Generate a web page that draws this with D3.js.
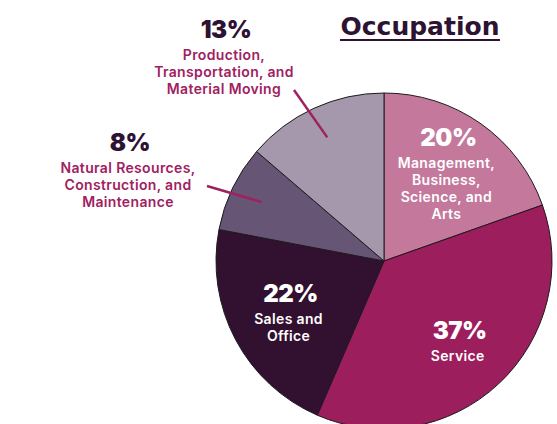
<!DOCTYPE html>
<html>
<head>
<meta charset="utf-8">
<script src="https://cdn.jsdelivr.net/npm/d3@7"></script>
<style>
  html, body { margin: 0; padding: 0; background: #fff; }
  svg { display: block; }
</style>
</head>
<body>
<div id="app"></div>
<script>
(function (d3) {
  'use strict'

  // slice data, clockwise from 12 o'clock
  const categories = ['Management', 'Service', 'Sales', 'Natural', 'Production']
  const values = [19.6, 36.9, 21.5, 8.3, 13.7]
  const pctLabels = ['20%', '37%', '22%', '8%', '13%']
  const nameLines = [
    ['Management,', 'Business,', 'Science, and', 'Arts'],
    ['Service'],
    ['Sales and', 'Office'],
    ['Natural Resources,', 'Construction, and', 'Maintenance'],
    ['Production,', 'Transportation, and', 'Material Moving']
  ]
  const colors = ['#c3789c', '#9d1e5c', '#321030', '#665575', '#a597ac']
  const inside = [true, true, true, false, false]

  const w = 557
  const h = 424
  const cx = 384
  const cy = 261
  const r = 168

  const dark = '#2e1233'
  const magenta = '#a0215f'
  const pctFont = 'Inter, "Noto Sans", sans-serif'
  const textFont = 'Inter, "Noto Sans", sans-serif'
  const textSize = '14px'
  const lh = 17

  const svg = d3.select('#app')
    .append('svg')
    .attr('width', w)
    .attr('height', h)

  const pie = d3.pie().sort(null).value(d => d)
  const arcs = pie(values)
  const arc = d3.arc().innerRadius(0).outerRadius(r)
  const labelArc = d3.arc().innerRadius(108).outerRadius(108)

  const g = svg.append('g').attr('transform', `translate(${cx},${cy})`)

  g.selectAll('path')
    .data(arcs)
    .enter()
    .append('path')
    .attr('d', arc)
    .attr('fill', (d, i) => colors[i])
    .attr('stroke', '#1e1a1e')
    .attr('stroke-width', 1)

  // percent + multi-line name
  const addLabel = function (parent, x, y, i, pctColor, nameColor) {
    parent.append('text')
      .attr('x', x + 2)
      .attr('y', y)
      .attr('text-anchor', 'middle')
      .style('font-family', pctFont)
      .style('font-weight', 900)
      .style('font-size', '24px')
      .style('letter-spacing', '-0.5px')
      .style('fill', pctColor)
      .text(pctLabels[i])
    const t = parent.append('text')
      .attr('text-anchor', 'middle')
      .style('font-family', textFont)
      .style('font-weight', 600)
      .style('font-size', textSize)
      .style('letter-spacing', '0.35px')
      .style('fill', nameColor)
    nameLines[i].forEach(function (s, j) {
      t.append('tspan')
        .attr('x', x)
        .attr('y', y + 22 + j * lh)
        .text(s)
    })
  }

  // labels inside the slices
  arcs.forEach(function (a, i) {
    if (!inside[i]) return
    const c = labelArc.centroid(a)
    const blockH = 18 + 22 + (nameLines[i].length - 1) * lh
    const top = c[1] - blockH / 2 + 1
    addLabel(g, c[0], top + 18, i, '#fff', '#fff')
  })

  // labels outside with leader lines
  const outside = [
    { i: 3, x: 128, y: 151, lx: 207, ly: 186 },
    { i: 4, x: 224, y: 38, lx: 294, ly: 90 }
  ]
  outside.forEach(function (o) {
    const a = arcs[o.i]
    const mid = (a.startAngle + a.endAngle) / 2
    const rin = 136
    g.append('line')
      .attr('x1', Math.sin(mid) * rin)
      .attr('y1', -Math.cos(mid) * rin)
      .attr('x2', o.lx - cx)
      .attr('y2', o.ly - cy)
      .attr('stroke', magenta)
      .attr('stroke-width', 2.5)
    addLabel(svg, o.x, o.y, o.i, dark, magenta)
  })

  // title
  svg.append('text')
    .attr('x', 420)
    .attr('y', 35)
    .attr('text-anchor', 'middle')
    .style('font-family', '"DejaVu Sans", sans-serif')
    .style('font-weight', 'bold')
    .style('font-size', '25px')
    .style('fill', dark)
    .text('Occupation')
  svg.append('rect')
    .attr('x', 340)
    .attr('y', 39)
    .attr('width', 160)
    .attr('height', 2)
    .attr('fill', dark)
}(d3))
</script>
</body>
</html>
